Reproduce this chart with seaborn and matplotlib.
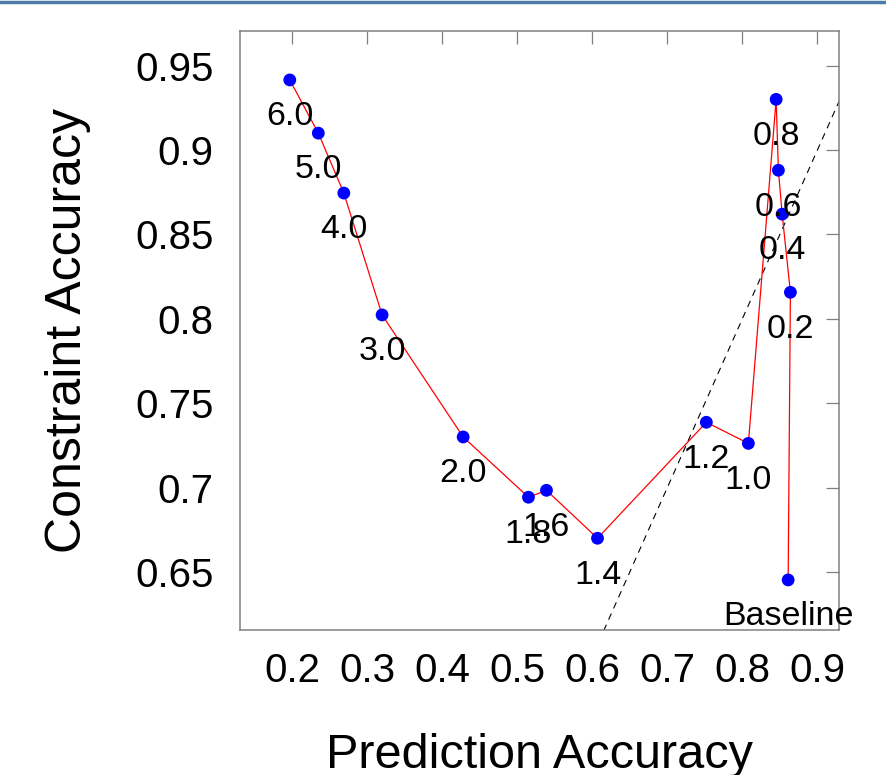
import matplotlib
matplotlib.use("Agg")
import matplotlib.pyplot as plt
import seaborn as sns
import pandas as pd
from matplotlib.lines import Line2D

# data, in drawing order
labels = ["6.0", "5.0", "4.0", "3.0", "2.0", "1.8", "1.6", "1.4",
          "1.2", "1.0", "0.8", "0.6", "0.4", "0.2", "Baseline"]
pred_acc = [0.197, 0.235, 0.269, 0.320, 0.428, 0.515, 0.539, 0.607,
            0.752, 0.808, 0.845, 0.848, 0.853, 0.864, 0.861]
cons_acc = [0.9415, 0.910, 0.8745, 0.8023, 0.730, 0.6943, 0.6984, 0.670,
            0.7387, 0.7262, 0.930, 0.888, 0.862, 0.8157, 0.6453]
diag = [0.0, 1.0]

df = pd.DataFrame({"pred": pred_acc, "cons": cons_acc, "label": labels})

sns.set_style("white")
plt.rcParams['font.family'] = ['Liberation Sans', 'DejaVu Sans']
plt.rcParams['text.color'] = 'black'
plt.rcParams['axes.labelcolor'] = 'black'
plt.rcParams['xtick.labelcolor'] = 'black'
plt.rcParams['ytick.labelcolor'] = 'black'

fig = plt.figure(figsize=(8.87, 7.75), dpi=100)
ax = fig.add_axes([0.2706, 0.187, 0.6755, 0.773])

# y = x reference line
ax.plot(diag, diag, color="black", lw=0.8, ls=(0, (6, 5)))

sns.lineplot(data=df, x="pred", y="cons", sort=False, color="red",
             lw=0.9, ax=ax, zorder=3)
sns.scatterplot(data=df, x="pred", y="cons", color="blue", s=85,
                edgecolor="none", ax=ax, zorder=4)

for x, y, t in zip(pred_acc, cons_acc, labels):
    ax.annotate(t, (x, y), xytext=(0, -26.5), textcoords="offset points",
                ha="center", va="center", fontsize=24.5, color="black", zorder=5)

ax.set_xlim(0.1307, 0.929)
ax.set_ylim(0.6156, 0.9705)
ax.set_xticks([0.2, 0.3, 0.4, 0.5, 0.6, 0.7, 0.8, 0.9])
ax.set_xticklabels(["0.2", "0.3", "0.4", "0.5", "0.6", "0.7", "0.8", "0.9"])
ax.set_yticks([0.65, 0.7, 0.75, 0.8, 0.85, 0.9, 0.95])
ax.set_yticklabels(["0.65", "0.7", "0.75", "0.8", "0.85", "0.9", "0.95"])

ax.tick_params(direction="in", length=9.5, width=0.9, color="#808080",
               top=True, right=True, labelsize=29, pad=16)
ax.tick_params(axis="y", pad=19)
for s in ax.spines.values():
    s.set_color("#808080")
    s.set_linewidth(1.1)

ax.set_xlabel("Prediction Accuracy", fontsize=35, labelpad=31)
ax.set_ylabel("Constraint Accuracy", fontsize=36, labelpad=32)

# thin blue rule along the top edge
fig.add_artist(Line2D([0, 1], [0.998, 0.998], color="#4f79a8", lw=2.5,
                      transform=fig.transFigure))

fig.savefig("out.png", dpi=100)
